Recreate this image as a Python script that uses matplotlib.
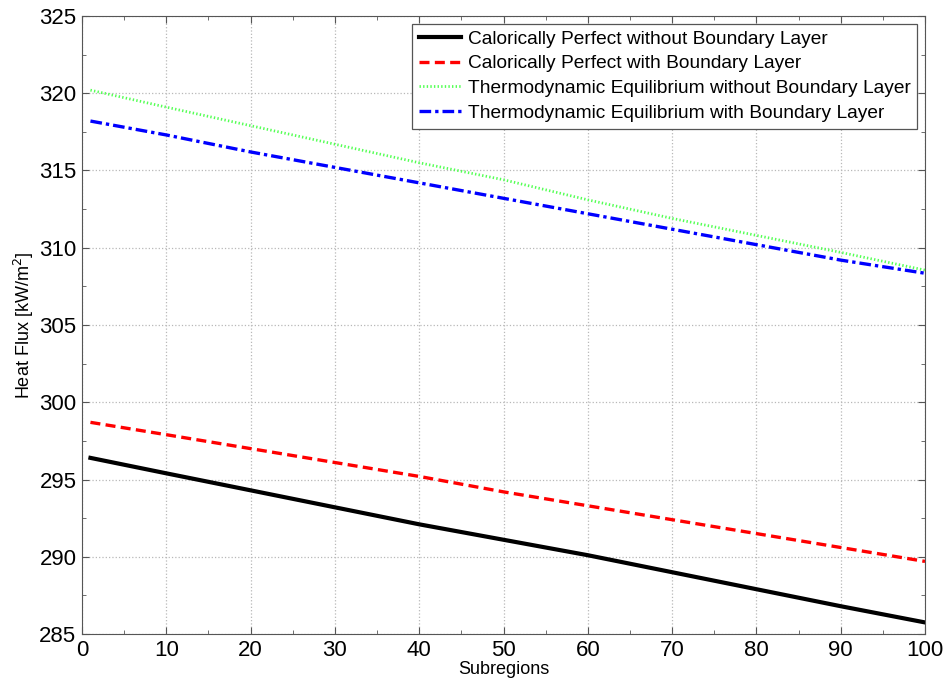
import matplotlib.pyplot as plt
from matplotlib.ticker import MultipleLocator

# Heat flux per subregion at every 10th subregion
subregions = [1, 10, 20, 30, 40, 50, 60, 70, 80, 90, 100]

cp_no_bl = [296.4, 295.4, 294.3, 293.2, 292.1, 291.1, 290.1, 289.0, 287.9, 286.8, 285.75]
cp_bl = [298.7, 297.9, 297.0, 296.1, 295.2, 294.2, 293.3, 292.4, 291.5, 290.6, 289.7]
te_no_bl = [320.2, 319.1, 317.9, 316.7, 315.5, 314.4, 313.1, 311.9, 310.8, 309.7, 308.55]
te_bl = [318.2, 317.3, 316.2, 315.2, 314.2, 313.2, 312.2, 311.2, 310.2, 309.2, 308.35]

labels = ['Calorically Perfect without Boundary Layer',
          'Calorically Perfect with Boundary Layer',
          'Thermodynamic Equilibrium without Boundary Layer',
          'Thermodynamic Equilibrium with Boundary Layer']

plt.rcParams['font.family'] = ['Liberation Sans', 'DejaVu Sans']

fig = plt.figure(figsize=(9.46, 6.89), dpi=100)
ax = fig.add_axes([0.0867, 0.0798, 0.8911, 0.8970])

ax.plot(subregions, cp_no_bl, color='black', linewidth=3.0, label=labels[0])
ax.plot(subregions, cp_bl, color='#ff0000', linewidth=2.4, linestyle=(0, (3, 1.6)), label=labels[1])
ax.plot(subregions, te_no_bl, color='#55ff55', linewidth=2.0, linestyle=(0, (0.5, 0.8)), label=labels[2])
ax.plot(subregions, te_bl, color='#0000ff', linewidth=2.4, linestyle=(0, (3.5, 1.2, 1, 1.2)), label=labels[3])

ax.set_xlim(0, 100)
ax.set_ylim(285, 325)
ax.xaxis.set_major_locator(MultipleLocator(10))
ax.xaxis.set_minor_locator(MultipleLocator(5))
ax.yaxis.set_major_locator(MultipleLocator(5))
ax.yaxis.set_minor_locator(MultipleLocator(2.5))

ax.grid(True, which='major', linestyle=':', color='#b8b8b8', linewidth=0.9)
ax.tick_params(which='both', direction='in', top=True, right=True, color='#555555')
ax.tick_params(which='major', length=5, labelsize=16, pad=4)
ax.tick_params(which='minor', length=3)
for s in ax.spines.values():
    s.set_color('#555555')

ax.set_xlabel('Subregions', fontsize=13, labelpad=0)
ax.set_ylabel('Heat Flux [kW/m$^2$]', fontsize=13, labelpad=2)

leg = ax.legend(loc='upper right', fontsize=13.8, fancybox=False, framealpha=1,
                edgecolor='#555555', handlelength=2.2, handletextpad=0.35,
                borderpad=0.35, labelspacing=0.38, borderaxespad=0.4)
leg.get_frame().set_linewidth(0.9)

fig.savefig('out.png', dpi=100)
